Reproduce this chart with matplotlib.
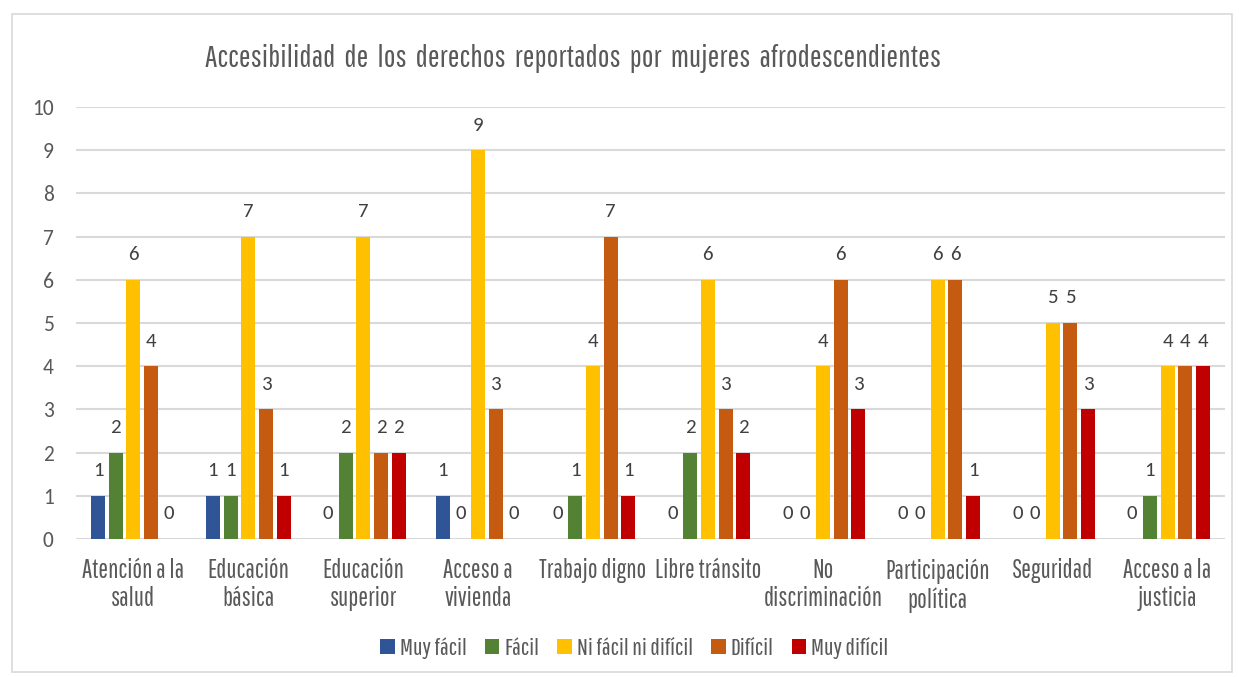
import matplotlib.pyplot as plt
import numpy as np
from matplotlib import font_manager
from matplotlib.patches import Rectangle

categories = ["Atención a la\nsalud", "Educación\nbásica", "Educación\nsuperior", "Acceso a\nvivienda",
              "Trabajo digno", "Libre tránsito", "No\ndiscriminación", "Participación\npolítica",
              "Seguridad", "Acceso a la\njusticia"]
series_names = ["Muy fácil", "Fácil", "Ni fácil ni difícil", "Difícil", "Muy difícil"]
muy_facil = [1, 1, 0, 1, 0, 0, 0, 0, 0, 0]
facil = [2, 1, 2, 0, 1, 2, 0, 0, 0, 1]
ni_facil_ni_dificil = [6, 7, 7, 9, 4, 6, 4, 6, 5, 4]
dificil = [4, 3, 2, 3, 7, 3, 6, 6, 5, 4]
muy_dificil = [0, 1, 2, 0, 1, 2, 3, 1, 3, 4]
colors = ["#2F5597", "#548235", "#FFC000", "#C55A11", "#C00000"]

installed = {f.name for f in font_manager.fontManager.ttflist}


def pick(cands):
    for c in cands:
        if c in installed:
            return c
    return "DejaVu Sans"


narrow = [pick(["Pathway Gothic One", "Saira Extra Condensed", "BenchNine", "Antonio",
                "Saira Condensed", "Oswald"]), "DejaVu Sans"]
num_font = [pick(["Carlito", "Lato"]), "DejaVu Sans"]
grey = "#595959"

fig = plt.figure(figsize=(12.39, 6.77), dpi=100)
ax = fig.add_axes([0.0613, 0.2038, 0.9274, 0.6382])

x = np.arange(len(categories))
step = 0.154
width = 0.122
all_series = [muy_facil, facil, ni_facil_ni_dificil, dificil, muy_dificil]
for k, (vals, name, c) in enumerate(zip(all_series, series_names, colors)):
    pos = x + (k - 2) * step
    bars = ax.bar(pos, vals, width, color=c, label=name, zorder=3)
    ax.bar_label(bars, labels=[str(v) for v in vals], padding=12,
                 fontsize=15, color="#404040", family=num_font)

ax.set_xlim(-0.5, len(categories) - 0.5)
ax.set_ylim(0, 10)
ax.set_yticks(range(0, 11))
ax.yaxis.grid(True, color="#D9D9D9", linewidth=1.5, zorder=0)
for s in ax.spines.values():
    s.set_visible(False)
ax.tick_params(axis="both", length=0)
ax.tick_params(axis="y", labelsize=15.5, labelcolor=grey, pad=16)
for t in ax.get_yticklabels():
    t.set_family(num_font)
ax.set_xticks(x)
ax.set_xticklabels(categories, fontsize=18.5, color=grey, family=narrow, linespacing=1.15)
ax.tick_params(axis="x", pad=14)

fig.text(0.4625, 0.913, "Accesibilidad  de  los  derechos  reportados  por  mujeres  afrodescendientes",
         ha="center", va="center", fontsize=22.5, color=grey, family=narrow)

leg = fig.legend(loc="center", bbox_to_anchor=(0.512, 0.043), ncol=5, frameon=False,
                 handlelength=0.6, handleheight=0.6, handletextpad=0.2, columnspacing=0.75,
                 prop={"family": narrow, "size": 17.5})
for t in leg.get_texts():
    t.set_color(grey)

fig.patches.append(Rectangle((0.0095, 0.007), 0.985, 0.972, transform=fig.transFigure,
                             fill=False, edgecolor="#D9D9D9", linewidth=1.2))

fig.savefig("out.png", dpi=100)
